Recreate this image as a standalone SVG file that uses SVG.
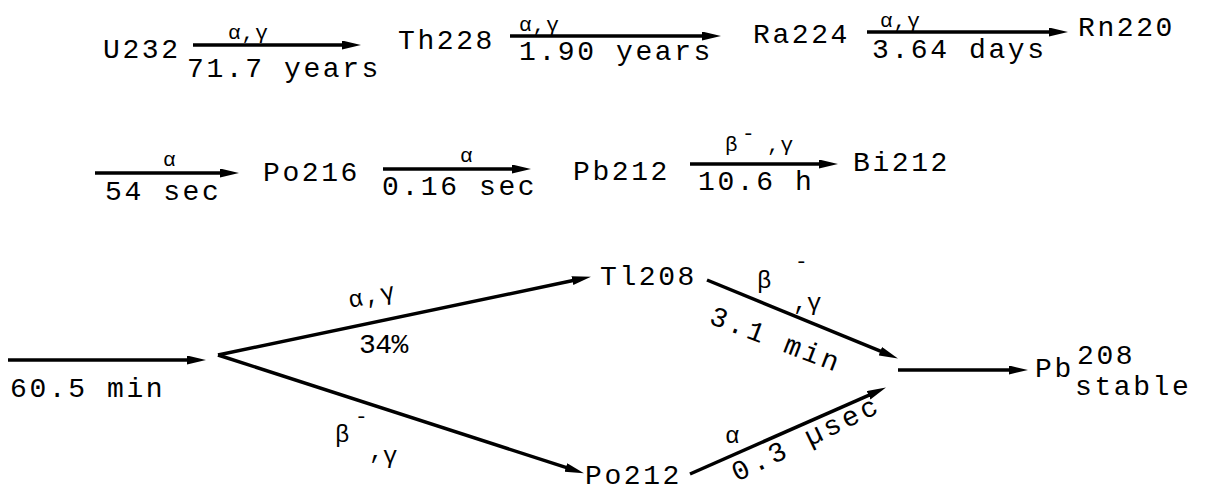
<svg xmlns="http://www.w3.org/2000/svg" width="1207" height="491" viewBox="0 0 1207 491">
<defs>
<marker id="ah" markerUnits="userSpaceOnUse" markerWidth="20" markerHeight="10" refX="8" refY="4.5" orient="auto"><path d="M0,0 L19,4.5 L0,9 Z" fill="#000"/></marker>
</defs>
<style>
text{font-family:"Liberation Mono","Courier New",monospace;fill:#000}
.t{font-size:28px;letter-spacing:2.6px}
.s{font-size:21px;letter-spacing:1px}
.m{font-size:24px}
.c{fill:none;stroke:#000;stroke-width:3.5;marker-end:url(#ah)}
</style>
<rect width="1207" height="491" fill="#fff"/>
<g id="U232"><text class="t" x="103" y="58">U232</text></g>
<g id="Th228"><text class="t" x="398" y="49">Th228</text></g>
<g id="Ra224"><text class="t" x="753" y="43">Ra224</text></g>
<g id="Rn220"><text class="t" x="1078" y="36">Rn220</text></g>
<g id="Po216"><text class="t" x="263" y="181">Po216</text></g>
<g id="Pb212"><text class="t" x="573" y="180">Pb212</text></g>
<g id="Bi212"><text class="t" x="853" y="171">Bi212</text></g>
<g id="Tl208"><text class="t" x="600" y="285">Tl208</text></g>
<g id="Po212"><text class="t" x="585" y="484">Po212</text></g>
<g id="Pb208"><text class="t" x="1035" y="377">Pb</text><text class="t" x="1077" y="364">208</text><text class="t" x="1075" y="395">stable</text></g>
<g id="connectors">
<path class="c" d="M193,45 H350"/>
<path class="c" d="M510,36 H710"/>
<path class="c" d="M867,32 H1057"/>
<path class="c" d="M95,173 H228"/>
<path class="c" d="M383,169 H520"/>
<path class="c" d="M690,164 H827"/>
<path class="c" d="M8,360 H195"/>
<path class="c" d="M218,355 L580.2,279.05"/>
<path class="c" d="M218,355 L573.5,469.9"/>
<path class="c" d="M707,280 L887.75,354.2"/>
<path class="c" d="M690,474 L875.9,392.05"/>
<path class="c" d="M898,370 H1017"/>
</g>
<g id="edge-labels">
<text class="s" x="228" y="39">α,γ</text>
<text class="t" x="187" y="77">71.7 years</text>
<text class="s" x="519" y="31">α,γ</text>
<text class="t" x="519" y="60">1.90 years</text>
<text class="s" x="880" y="27">α,γ</text>
<text class="t" x="872" y="58">3.64 days</text>
<text class="s" x="163" y="166">α</text>
<text class="t" x="105" y="200">54 sec</text>
<text class="s" x="460" y="162">α</text>
<text class="t" x="382" y="195">0.16 sec</text>
<text class="s" x="725" y="151">β</text><text class="s" x="742" y="140">-</text><text class="s" x="767" y="151">,γ</text>
<text class="t" x="698" y="190">10.6 h</text>
<text class="t" x="10" y="397">60.5 min</text>
<text class="m" x="350" y="308" transform="rotate(-12 350 308)" style="letter-spacing:2px">α,γ</text>
<text class="m" x="359" y="353" style="font-size:28px;letter-spacing:-0.5px">34%</text>
<text class="m" x="335" y="442">β</text><text class="s" x="355" y="423">-</text><text class="m" x="369" y="459">,</text><text class="m" x="383" y="463">γ</text>
<text class="m" x="757" y="288">β</text><text class="s" x="795" y="268">-</text><text class="m" x="793" y="310">,</text><text class="m" x="807" y="310">γ</text>
<text class="t" x="708" y="323" transform="rotate(21 708 323)" style="letter-spacing:3px">3.1 min</text>
<text class="m" x="725" y="443">α</text>
<text class="t" x="737" y="482" transform="rotate(-26 737 482)" style="letter-spacing:3.5px">0.3 µsec</text>
</g>
</svg>
